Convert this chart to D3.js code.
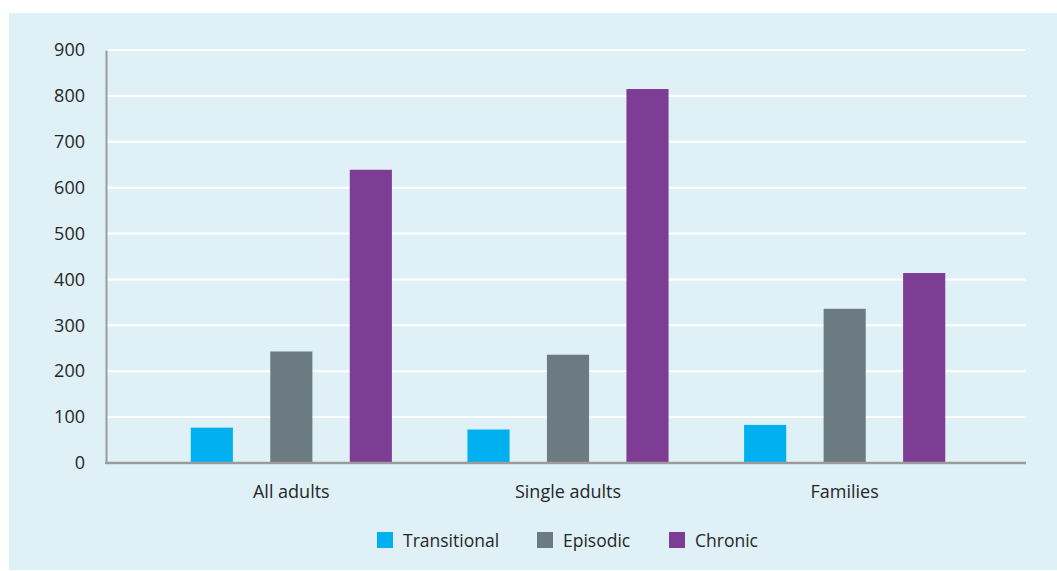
<!DOCTYPE html>
<html>
<head>
<meta charset="utf-8">
<script src="https://cdn.jsdelivr.net/npm/d3@7/dist/d3.min.js"></script>
<style>
  html, body { margin: 0; padding: 0; background: #ffffff; }
  svg { display: block; }
  text { font-family: "Open Sans", "Noto Sans", sans-serif; fill: #262626; }
</style>
</head>
<body>
<svg id="chart" width="1057" height="571"></svg>
<script>
// Groups along the x axis
const categories = ["All adults", "Single adults", "Families"];
// Series (one bar per group each)
const seriesNames = ["Transitional", "Episodic", "Chronic"];
const transitional = [77, 73, 83];
const episodic = [243, 236, 336];
const chronic = [639, 815, 414];
// Y axis ticks
const yTicks = [0, 100, 200, 300, 400, 500, 600, 700, 800, 900];

const colors = ["#00b0f0", "#6c7a82", "#7e3d94"];
const seriesValues = [transitional, episodic, chronic];

const svg = d3.select("#chart");

// Panel background
svg.append("rect")
  .attr("x", 9).attr("y", 13)
  .attr("width", 1048).attr("height", 557)
  .attr("fill", "#dff1f6");

const plot = { left: 106, right: 1026, top: 50, bottom: 463 };

const y = d3.scaleLinear().domain([0, 900]).range([plot.bottom, plot.top]);
const x0 = d3.scaleBand().domain(categories).range([153, 983]).padding(0);
const x1 = d3.scaleBand().domain(seriesNames).range([0, x0.bandwidth()])
  .paddingInner(0.47).paddingOuter(0.475);

// Horizontal gridlines
svg.append("g")
  .selectAll("line")
  .data(yTicks.filter(d => d > 0))
  .join("line")
  .attr("x1", plot.left).attr("x2", plot.right)
  .attr("y1", d => y(d)).attr("y2", d => y(d))
  .attr("stroke", "#ffffff").attr("stroke-width", 2);

// Y axis
const yAxis = svg.append("g")
  .attr("transform", `translate(${plot.left},0)`)
  .call(d3.axisLeft(y).tickValues(yTicks).tickSize(0).tickPadding(21));
yAxis.select(".domain").attr("stroke", "#9b9b9b").attr("stroke-width", 2);
yAxis.selectAll("text").attr("font-size", 18).attr("fill", "#262626")
  .style("font-family", '"Open Sans", "Noto Sans", sans-serif');

// Bars
const rows = categories.map((c, i) => ({
  cat: c,
  vals: seriesNames.map((s, j) => ({ series: s, value: seriesValues[j][i], color: colors[j] }))
}));

svg.append("g")
  .selectAll("g")
  .data(rows)
  .join("g")
  .attr("transform", d => `translate(${x0(d.cat)},0)`)
  .selectAll("rect")
  .data(d => d.vals)
  .join("rect")
  .attr("x", d => x1(d.series))
  .attr("width", x1.bandwidth())
  .attr("y", d => y(d.value))
  .attr("height", d => y(0) - y(d.value))
  .attr("fill", d => d.color);

// X axis baseline
svg.append("line")
  .attr("x1", plot.left - 1).attr("x2", plot.right)
  .attr("y1", plot.bottom).attr("y2", plot.bottom)
  .attr("stroke", "#9b9b9b").attr("stroke-width", 2.5);

// Category labels
svg.append("g")
  .selectAll("text")
  .data(categories)
  .join("text")
  .attr("x", d => x0(d) + x0.bandwidth() / 2)
  .attr("y", 498)
  .attr("text-anchor", "middle")
  .attr("font-size", 18)
  .text(d => d);

// Legend
const legendX = [377, 537, 669];
const legend = svg.append("g")
  .selectAll("g")
  .data(seriesNames)
  .join("g")
  .attr("transform", (d, i) => `translate(${legendX[i]},532)`);
legend.append("rect")
  .attr("width", 16).attr("height", 16)
  .attr("fill", (d, i) => colors[i]);
legend.append("text")
  .attr("x", 26).attr("y", 15)
  .attr("font-size", 17.5)
  .text(d => d);
</script>
</body>
</html>
